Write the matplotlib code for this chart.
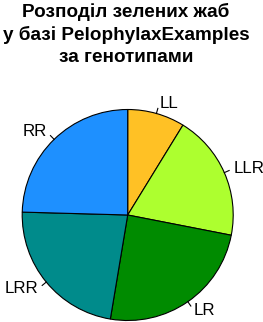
import numpy as np
import matplotlib
matplotlib.use('Agg')
import matplotlib.pyplot as plt

# data
genotypes = ['LL', 'LLR', 'LR', 'LRR', 'RR']
counts = [5, 11, 14, 13, 14]
colors = ['#FFC125', '#ADFF2F', '#008B00', '#008B8B', '#1E90FF']
title_lines = ['Розподіл зелених жаб', 'у базі PelophylaxExamples', 'за генотипами']

W, H = 263, 322
cx, cy, r = 127.7, 215.0, 105.5  # pie centre / radius in pixels (from top-left)

plt.rcParams['font.family'] = ['Liberation Sans', 'DejaVu Sans']

fig = plt.figure(figsize=(W / 100, H / 100), dpi=100)
ax = fig.add_axes([0, 0, 1, 1])

wedges, texts = ax.pie(counts, labels=genotypes, colors=colors, startangle=90,
                       counterclock=False, labeldistance=1.1,
                       wedgeprops=dict(edgecolor='black', linewidth=0.8),
                       textprops=dict(fontsize=12.2))

# short tick lines like R's pie()
for w in wedges:
    mid = np.deg2rad((w.theta1 + w.theta2) / 2)
    ax.plot([np.cos(mid), 1.05 * np.cos(mid)], [np.sin(mid), 1.05 * np.sin(mid)],
            color='black', lw=0.8)

ax.set_xlim(-cx / r, (W - cx) / r)
ax.set_ylim(-(H - cy) / r, cy / r)
ax.set_aspect('auto')
ax.axis('off')

for line, base in zip(title_lines, [16.7, 39.5, 62.3]):
    fig.text(126.0 / W, 1 - base / H, line, ha='center', va='baseline',
             fontsize=13.6, fontweight='bold')

fig.savefig('out.png', dpi=100)
